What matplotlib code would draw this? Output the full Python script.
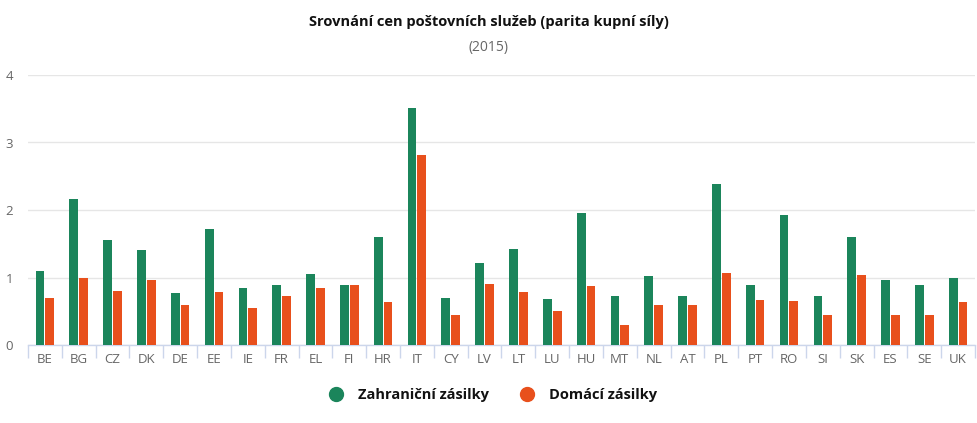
import matplotlib
matplotlib.use("Agg")
import matplotlib.pyplot as plt
import numpy as np
from matplotlib.lines import Line2D

categories = ["BE","BG","CZ","DK","DE","EE","IE","FR","EL","FI","HR","IT","CY","LV",
              "LT","LU","HU","MT","NL","AT","PL","PT","RO","SI","SK","ES","SE","UK"]
zahranicni = [1.10,2.16,1.56,1.41,0.77,1.72,0.84,0.89,1.05,0.89,1.60,3.51,0.70,1.21,
              1.42,0.68,1.96,0.72,1.02,0.72,2.39,0.89,1.93,0.73,1.60,0.96,0.89,1.00]
domaci = [0.70,1.00,0.80,0.96,0.60,0.79,0.55,0.72,0.84,0.89,0.64,2.81,0.45,0.91,
          0.78,0.50,0.88,0.30,0.60,0.60,1.07,0.67,0.65,0.45,1.04,0.45,0.45,0.64]
series_names = ["Zahraniční zásilky", "Domácí zásilky"]
title = "Srovnání cen poštovních služeb (parita kupní síly)"
subtitle = "(2015)"
yticks = [0, 1, 2, 3, 4]

green = "#1b855b"
orange = "#e8501c"

plt.rcParams['font.family'] = ['Open Sans', 'DejaVu Sans']

W, H = 978, 423
fig = plt.figure(figsize=(W/100, H/100), dpi=100)
ax = fig.add_axes([28/W, (H-345)/H, (975-28)/W, (345-75)/H])

x = np.arange(len(categories))
bw = 0.26
ax.bar(x - bw/2 - 0.015, zahranicni, width=bw, color=green, zorder=3)
ax.bar(x + bw/2 + 0.015, domaci, width=bw, color=orange, zorder=3)

ax.set_xlim(-0.5, len(categories) - 0.5)
ax.set_ylim(0, 4)
ax.set_yticks(yticks)
ax.set_yticklabels([str(t) for t in yticks])
ax.yaxis.grid(True, color="#e6e6e6", linewidth=1, zorder=0)
ax.set_axisbelow(True)
for s in ["top", "right", "left"]:
    ax.spines[s].set_visible(False)
ax.spines["bottom"].set_color("#ccd6eb")
ax.spines["bottom"].set_linewidth(1)
ax.tick_params(axis="y", length=0, labelsize=9.5, labelcolor="#666666", pad=16)
for lbl in ax.get_yticklabels():
    lbl.set_horizontalalignment("left")
ax.set_xticks(x)
ax.set_xticklabels(categories)
ax.tick_params(axis="x", which="major", length=0, labelsize=9.5, labelcolor="#666666", pad=6)
ax.set_xticks(np.arange(-0.5, len(categories) + 0.5, 1), minor=True)
ax.tick_params(axis="x", which="minor", length=9, color="#ccd6eb", width=1)

fig.text(0.5, 1 - 22/H, title, ha="center", va="center", fontsize=10.5,
         fontweight="bold", color="#111111")
fig.text(0.5, 1 - 48/H, subtitle, ha="center", va="center", fontsize=10, color="#666666")

handles = [Line2D([0], [0], marker="o", linestyle="", markersize=10, markerfacecolor=green,
                  markeredgecolor=green),
           Line2D([0], [0], marker="o", linestyle="", markersize=10, markerfacecolor=orange,
                  markeredgecolor=orange)]
leg = fig.legend(handles, series_names, loc="center", bbox_to_anchor=(0.5, 1 - 395/H),
                 ncol=2, frameon=False, handletextpad=0.5, columnspacing=1.6,
                 prop={"weight": "bold", "size": 10.5})
for t in leg.get_texts():
    t.set_color("#111111")

fig.savefig("out.png", dpi=100)
